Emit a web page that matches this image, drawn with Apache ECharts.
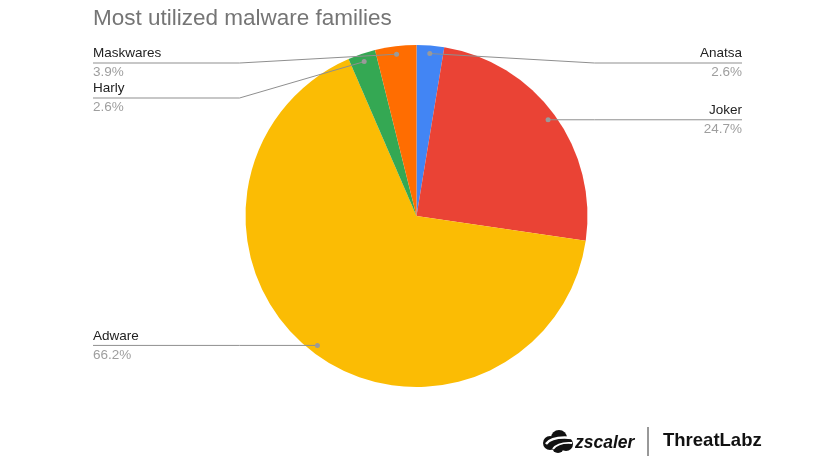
<!DOCTYPE html>
<html>
<head>
<meta charset="utf-8">
<script src="https://cdn.jsdelivr.net/npm/echarts@6/dist/echarts.min.js"></script>
<style>
  html, body { margin: 0; padding: 0; background: #ffffff; }
  #chart { width: 836px; height: 470px; }
</style>
</head>
<body>
<div id="chart"></div>
<script>
// ---- data ----
var categories = ['Anatsa', 'Joker', 'Adware', 'Harly', 'Maskwares'];
var shares = [2.6, 24.7, 66.2, 2.6, 3.9];
var colors = ['#4285F4', '#EA4335', '#FBBC04', '#34A853', '#FF6D01'];
var titleText = 'Most utilized malware families';

// ---- layout ----
var CX = 416.5, CY = 216, R = 171, DOT_R = 163;
var LEFT_EDGE = 93, RIGHT_EDGE = 742, TOP_LIMIT = 63, GAP = 35;

var total = shares.reduce(function (a, b) { return a + b; }, 0);
var layout = [];
(function () {
  var cum = 0;
  for (var i = 0; i < shares.length; i++) {
    var mid = (cum + shares[i] / 2) / total * Math.PI * 2;
    cum += shares[i];
    var dx = Math.sin(mid), dy = -Math.cos(mid);
    layout.push({
      i: i,
      right: dx >= 0,
      dot: [CX + DOT_R * dx, CY + DOT_R * dy]
    });
  }
  [true, false].forEach(function (side) {
    var items = layout.filter(function (l) { return l.right === side; })
      .sort(function (a, b) { return a.dot[1] - b.dot[1]; });
    var prev = -Infinity;
    items.forEach(function (l) {
      var y = Math.max(l.dot[1], TOP_LIMIT, prev + GAP);
      l.y = y;
      prev = y;
    });
  });
})();

var chart = echarts.init(document.getElementById('chart'));
var FONT = 'Arial, "Liberation Sans", sans-serif';

function overlayData() {
  return categories.map(function (c, i) {
    return { name: c, value: shares[i] };
  });
}

chart.setOption({
  backgroundColor: '#ffffff',
  animation: false,
  title: {
    text: titleText,
    left: 88,
    top: 2,
    textStyle: { fontFamily: FONT, fontSize: 22.5, fontWeight: 'normal', color: '#757575' }
  },
  series: [
    {
      // slices
      type: 'pie',
      center: [CX, CY],
      radius: R,
      startAngle: 90,
      clockwise: true,
      silent: true,
      z: 2,
      data: categories.map(function (c, i) {
        return { name: c, value: shares[i], itemStyle: { color: colors[i] } };
      }),
      itemStyle: { borderWidth: 0 },
      label: { show: false },
      labelLine: { show: false },
      emphasis: { disabled: true }
    },
    {
      // labels + leader lines (drawn above the slices)
      type: 'pie',
      center: [CX, CY],
      radius: R,
      startAngle: 90,
      clockwise: true,
      avoidLabelOverlap: false,
      silent: true,
      z: 5,
      data: overlayData(),
      itemStyle: { color: 'rgba(0,0,0,0)', borderWidth: 0 },
      emphasis: { disabled: true },
      label: {
        show: true,
        position: 'outer',
        fontFamily: FONT,
        formatter: function (p) {
          return '{n|' + p.name + '}\n{p|' + shares[p.dataIndex].toFixed(1) + '%}';
        },
        rich: {
          n: { fontFamily: FONT, fontSize: 13.5, color: '#222222', lineHeight: 19 },
          p: { fontFamily: FONT, fontSize: 13.5, color: '#9e9e9e', lineHeight: 19 }
        }
      },
      labelLine: {
        show: true,
        lineStyle: { color: '#8f8f8f', width: 1 }
      },
      labelLayout: function (params) {
        var l = layout[params.dataIndex];
        var bendX = l.right ? CX + R + 7 : CX - R - 6;
        var edgeX = l.right ? RIGHT_EDGE : LEFT_EDGE;
        return {
          x: edgeX,
          y: l.y,
          align: l.right ? 'right' : 'left',
          verticalAlign: 'middle',
          labelLinePoints: [l.dot.slice(), [bendX, l.y], [edgeX, l.y]]
        };
      }
    },
    {
      // anchor dots
      type: 'pie',
      center: [CX, CY],
      radius: R,
      startAngle: 90,
      clockwise: true,
      avoidLabelOverlap: false,
      silent: true,
      z: 6,
      data: overlayData(),
      itemStyle: { color: 'rgba(0,0,0,0)', borderWidth: 0 },
      emphasis: { disabled: true },
      label: {
        show: true,
        position: 'outer',
        formatter: '{d|}',
        rich: { d: { width: 5, height: 5, borderRadius: 2.5, backgroundColor: '#9a9a9a' } }
      },
      labelLine: { show: false },
      labelLayout: function (params) {
        var l = layout[params.dataIndex];
        return { x: l.dot[0], y: l.dot[1], align: 'center', verticalAlign: 'middle' };
      }
    }
  ],
  graphic: [
    { type: 'circle', shape: { cx: 550, cy: 443, r: 7 }, style: { fill: '#111111' } },
    { type: 'circle', shape: { cx: 559, cy: 438, r: 8 }, style: { fill: '#111111' } },
    { type: 'circle', shape: { cx: 566, cy: 444, r: 7 }, style: { fill: '#111111' } },
    { type: 'circle', shape: { cx: 558, cy: 447, r: 6 }, style: { fill: '#111111' } },
    {
      type: 'bezierCurve',
      shape: { x1: 546, y1: 444, cpx1: 552, cpy1: 436, x2: 572, y2: 438 },
      style: { fill: 'none', stroke: '#ffffff', lineWidth: 2.5 }
    },
    {
      type: 'bezierCurve',
      shape: { x1: 553, y1: 449, cpx1: 558, cpy1: 442, x2: 572, y2: 443 },
      style: { fill: 'none', stroke: '#ffffff', lineWidth: 2 }
    },
    {
      type: 'text',
      left: 575,
      top: 434,
      style: { text: 'zscaler', fontFamily: FONT, fontSize: 17.5, fontWeight: 'bold', fontStyle: 'italic', fill: '#111111' }
    },
    {
      type: 'line',
      shape: { x1: 648, y1: 427, x2: 648, y2: 456 },
      style: { stroke: '#333333', lineWidth: 1 }
    },
    {
      type: 'text',
      left: 663,
      top: 431,
      style: { text: 'ThreatLabz', fontFamily: FONT, fontSize: 18.5, fontWeight: 'bold', fill: '#111111' }
    }
  ]
});
</script>
</body>
</html>
